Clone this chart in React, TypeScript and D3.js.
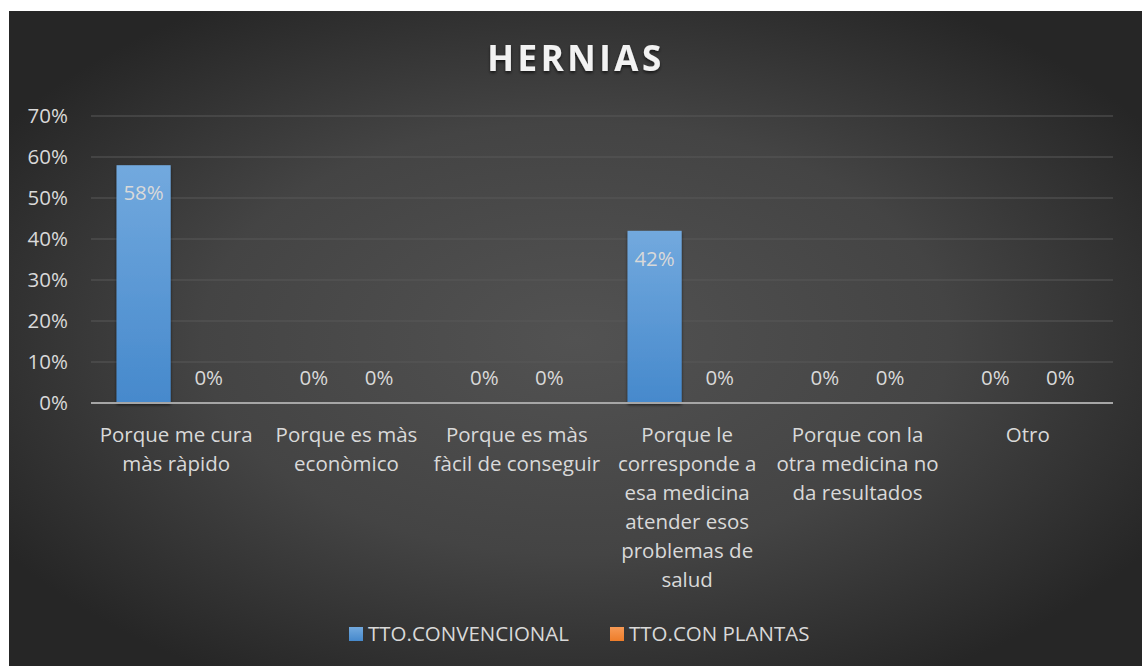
import React from 'react';
import * as d3 from 'd3';

const categories = [
  ['Porque me cura', 'màs ràpido'],
  ['Porque es màs', 'econòmico'],
  ['Porque es màs', 'fàcil de conseguir'],
  ['Porque le', 'corresponde a', 'esa medicina', 'atender esos', 'problemas de', 'salud'],
  ['Porque con la', 'otra medicina no', 'da resultados'],
  ['Otro'],
];
const seriesNames = ['TTO.CONVENCIONAL', 'TTO.CON PLANTAS'];
const convencional = [0.58, 0, 0, 0.42, 0, 0];
const conPlantas = [0, 0, 0, 0, 0, 0];
const yTicks = [0, 0.1, 0.2, 0.3, 0.4, 0.5, 0.6, 0.7];

const FONT = "'Open Sans', sans-serif";
const TEXT = '#d9d9d9';
const FS = 20.5;

export default function App() {
  const W = 1142, H = 666;
  const left = 91, right = 1113, top = 116, bottom = 403;

  const keys = categories.map((c, i) => String(i));
  const x0 = d3.scaleBand().domain(keys).range([left, right]);
  const x1 = d3.scaleBand().domain(seriesNames).range([0, x0.bandwidth()])
    .paddingInner(0.169).paddingOuter(0.392);
  const y = d3.scaleLinear().domain([0, 0.7]).range([bottom, top]);
  const fmt = d3.format('.0%');
  const values = [convencional, conPlantas];
  const fills = ['url(#blueGrad)', 'url(#orangeGrad)'];

  return (
    <svg width={W} height={H} style={{ position: 'absolute', left: 0, top: 0 }}>
      <defs>
        <radialGradient id="bg" cx="50%" cy="50%" r="60%">
          <stop offset="0%" stopColor="#525252" />
          <stop offset="55%" stopColor="#444444" />
          <stop offset="100%" stopColor="#262626" />
        </radialGradient>
        <linearGradient id="blueGrad" x1="0" y1="0" x2="0" y2="1">
          <stop offset="0%" stopColor="#72a9de" />
          <stop offset="100%" stopColor="#4689cc" />
        </linearGradient>
        <linearGradient id="orangeGrad" x1="0" y1="0" x2="0" y2="1">
          <stop offset="0%" stopColor="#f79a55" />
          <stop offset="100%" stopColor="#ee7d2a" />
        </linearGradient>
        <filter id="shadow" x="-20%" y="-20%" width="140%" height="150%">
          <feDropShadow dx="0" dy="2" stdDeviation="1.5" floodColor="#000" floodOpacity="0.6" />
        </filter>
      </defs>
      <rect x={0} y={0} width={W} height={H} fill="#fff" />
      <rect x={9} y={11} width={W - 9} height={H - 11} fill="url(#bg)" />

      <text x={576} y={71} textAnchor="middle" fontFamily={FONT} fontWeight="bold"
        fontSize={35} letterSpacing={3.5} fill="#f2f2f2" filter="url(#shadow)">HERNIAS</text>

      {yTicks.map(t => (
        <g key={t}>
          {t > 0 && <line x1={left} x2={right} y1={y(t)} y2={y(t)} stroke="#595959" strokeWidth={1} />}
          <text x={68} y={y(t) + 7} textAnchor="end" fontFamily={FONT} fontSize={FS} fill={TEXT}>{fmt(t)}</text>
        </g>
      ))}

      {keys.map((k, i) => (
        <g key={k} transform={`translate(${x0(k)},0)`}>
          {seriesNames.map((s, j) => {
            const v = values[j][i];
            const bx = x1(s)!;
            const cx = bx + x1.bandwidth() / 2;
            return (
              <g key={s}>
                {v > 0 && (
                  <rect x={bx} y={y(v)} width={x1.bandwidth()} height={bottom - y(v)}
                    fill={fills[j]} filter="url(#shadow)" />
                )}
                <text x={cx} y={v > 0 ? y(v) + 35 : y(v) - 18} textAnchor="middle"
                  fontFamily={FONT} fontSize={FS} fill={TEXT}>{fmt(v)}</text>
              </g>
            );
          })}
          {categories[i].map((line, li) => (
            <text key={li} x={x0.bandwidth() / 2} y={442 + li * 29} textAnchor="middle"
              fontFamily={FONT} fontSize={FS} fill={TEXT}>{line}</text>
          ))}
        </g>
      ))}

      <line x1={left} x2={right} y1={bottom} y2={bottom} stroke="#a6a6a6" strokeWidth={2} />

      {seriesNames.map((s, j) => {
        const lx = j === 0 ? 349 : 610;
        return (
          <g key={s}>
            <rect x={lx} y={627} width={14} height={14} fill={fills[j]} />
            <text x={lx + 19} y={641} fontFamily={FONT} fontSize={FS} fill={TEXT}>{s}</text>
          </g>
        );
      })}
    </svg>
  );
}
